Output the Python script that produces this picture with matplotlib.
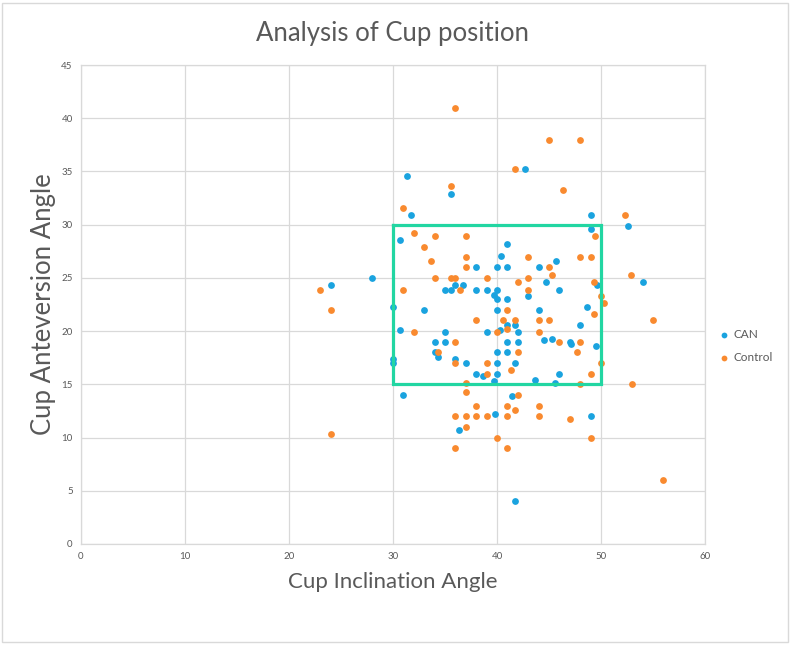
import matplotlib.pyplot as plt
from matplotlib.patches import Rectangle

# data
can_x = [31.3, 35.6, 31.7, 30.7, 42.7, 49.0, 52.6, 49.0,
         28.0, 24.0, 35.0, 35.6, 36.0, 36.7, 30.0, 33.0, 30.7, 35.0, 34.0, 35.0,
         41.0, 40.4, 45.7, 38.0, 40.0, 41.0, 44.0, 54.0, 44.7, 49.6,
         38.0, 39.0, 40.0, 46.0, 39.7, 40.0, 41.0, 43.0, 48.7, 40.0, 44.0,
         41.0, 41.7, 40.3, 39.0, 42.0, 48.0, 41.0, 42.0, 44.5, 45.3, 47.0, 47.1, 49.5,
         40.0, 41.0, 36.0, 37.0, 40.0, 41.7, 38.0, 38.7, 40.0, 46.0, 39.7, 43.7, 45.6,
         34.0, 34.3, 30.0, 30.0, 31.0, 41.4, 39.8, 49.0, 36.3, 41.7]
can_y = [34.6, 32.9, 30.9, 28.6, 35.2, 30.9, 29.9, 29.6,
         25.0, 24.3, 23.9, 23.9, 24.3, 24.3, 22.3, 22.0, 20.1, 19.9, 19.0, 19.0,
         28.2, 27.1, 26.6, 26.0, 26.0, 26.0, 26.0, 24.6, 24.6, 24.3,
         23.9, 23.9, 23.9, 23.9, 23.4, 23.0, 23.0, 23.3, 22.3, 22.0, 22.0,
         20.6, 20.6, 20.1, 19.9, 19.9, 20.6, 19.0, 19.0, 19.2, 19.3, 19.0, 18.8, 18.6,
         18.0, 18.0, 17.4, 17.0, 17.0, 17.0, 16.0, 15.8, 16.0, 16.0, 15.3, 15.4, 15.1,
         18.0, 17.6, 17.4, 17.0, 14.0, 13.9, 12.2, 12.0, 10.7, 4.0]

control_x = [36.0, 35.6, 31.0, 32.0, 34.0, 37.0, 45.0, 48.0, 41.7, 46.3, 52.3, 49.4,
             33.0, 33.7, 34.0, 35.6, 36.0, 23.0, 31.0, 36.4, 24.0, 32.0, 36.0,
             37.0, 43.0, 48.0, 49.0, 37.0, 45.0, 45.3, 52.9, 39.0, 43.0, 42.0, 49.3,
             43.0, 50.0, 50.3, 41.0, 49.3, 38.0, 40.6, 41.7, 44.0, 45.0, 55.0, 41.0, 40.0, 44.0,
             46.0, 48.0, 34.3, 42.0, 47.7, 36.0, 39.0, 50.0, 41.3, 39.0, 49.0, 37.0, 48.0, 53.0,
             37.0, 42.0, 38.0, 41.0, 44.0, 41.7, 36.0, 37.0, 38.0, 39.0, 41.0, 44.0, 47.0,
             37.0, 40.0, 49.0, 36.0, 41.0, 24.0, 56.0]
control_y = [41.0, 33.6, 31.6, 29.2, 28.9, 28.9, 38.0, 38.0, 35.2, 33.3, 30.9, 28.9,
             27.9, 26.6, 25.0, 25.0, 25.0, 23.9, 23.9, 23.9, 22.0, 19.9, 19.0,
             27.0, 27.0, 27.0, 27.0, 26.0, 26.0, 25.3, 25.3, 25.0, 25.0, 24.6, 24.6,
             23.9, 23.3, 22.6, 22.0, 21.6, 21.0, 21.0, 21.0, 21.0, 21.0, 21.0, 20.2, 19.9, 19.9,
             19.0, 19.0, 18.0, 18.0, 18.0, 17.0, 17.0, 17.0, 16.3, 16.0, 16.0, 15.1, 15.0, 15.0,
             14.3, 14.0, 13.0, 13.0, 13.0, 12.6, 12.0, 12.0, 12.0, 12.0, 12.0, 12.0, 11.7,
             11.0, 10.0, 10.0, 9.0, 9.0, 10.3, 6.0]

# target zone box (inclination 30-50, anteversion 15-30)
box_x = [30, 50, 50, 30, 30]
box_y = [30, 30, 15, 15, 30]

x_ticks = [0, 10, 20, 30, 40, 50, 60]
y_ticks = [0, 5, 10, 15, 20, 25, 30, 35, 40, 45]

text_color = '#595959'
grid_color = '#D9D9D9'

plt.rcParams['font.family'] = ['Lato', 'DejaVu Sans']

fig = plt.figure(figsize=(7.9, 6.45), dpi=100)
fig.patches.append(Rectangle((0.003, 0.004), 0.994, 0.992, transform=fig.transFigure,
                             fill=False, edgecolor=grid_color, linewidth=1))
ax = fig.add_axes([0.1025, 0.1566, 0.7899, 0.7426])

ax.scatter(can_x, can_y, s=24, color='#1AA3DF', label='CAN', zorder=3, linewidths=0)
ax.scatter(control_x, control_y, s=24, color='#F98A2F', label='Control', zorder=3, linewidths=0)
ax.plot(box_x, box_y, color='#22D6A2', linewidth=2.3, zorder=4, solid_joinstyle='miter')

ax.set_xlim(0, 60)
ax.set_ylim(0, 45)
ax.set_xticks(x_ticks)
ax.set_yticks(y_ticks)
ax.tick_params(length=0, labelsize=7, colors=text_color, pad=6)
ax.grid(True, color=grid_color, linewidth=0.9)
ax.set_axisbelow(True)
for sp in ax.spines.values():
    sp.set_color(grid_color)
    sp.set_linewidth(0.9)

ax.set_title('Analysis of Cup position', fontsize=18.5, color=text_color, pad=17)
ax.set_xlabel('Cup Inclination Angle', fontsize=16, color=text_color, labelpad=8)
ax.set_ylabel('Cup Anteversion Angle', fontsize=18.5, color=text_color, labelpad=4)

ax.legend(loc='center left', bbox_to_anchor=(0.995, 0.413), frameon=False, fontsize=8.5,
          labelcolor=text_color, handletextpad=-0.2, markerscale=0.85, labelspacing=1.0)

plt.savefig('out.png', dpi=100)
